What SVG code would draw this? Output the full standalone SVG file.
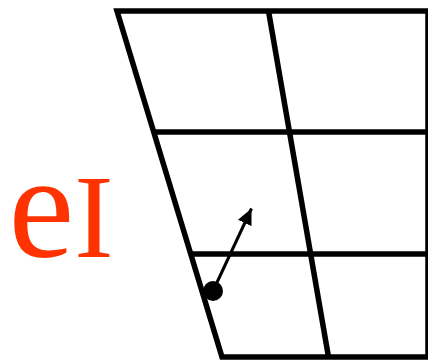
<svg xmlns="http://www.w3.org/2000/svg" width="428" height="360" viewBox="0 0 428 360">
<defs>
<style>
.grid{fill:none;stroke:#000;stroke-width:5.5;stroke-linejoin:miter}
.lbl{font-family:"Liberation Serif","Times New Roman",serif;fill:#ff3300}
</style>
<marker id="ah" markerUnits="userSpaceOnUse" markerWidth="18" markerHeight="16" refX="16" refY="7.5" orient="auto">
<path d="M0,0 L16,7.5 L0,15 Z" fill="#000"/>
</marker>
</defs>
<g id="grid">
<path class="grid" d="M117,11 L428,11 L428,357 L222,357 Z"/>
<line class="grid" x1="268.5" y1="11" x2="328.5" y2="357"/>
<line class="grid" x1="153.7" y1="132" x2="428" y2="132"/>
<line class="grid" x1="190.7" y1="254" x2="428" y2="254"/>
</g>
<g id="connectors">
<line x1="213" y1="291" x2="251.5" y2="208.5" stroke="#000" stroke-width="3" marker-end="url(#ah)"/>
</g>
<g id="point">
<circle cx="213" cy="291" r="10" fill="#000"/>
</g>
<g id="label">
<text class="lbl" x="8.6" y="257"><tspan font-size="148">e</tspan><tspan font-size="118">I</tspan></text>
</g>
</svg>
